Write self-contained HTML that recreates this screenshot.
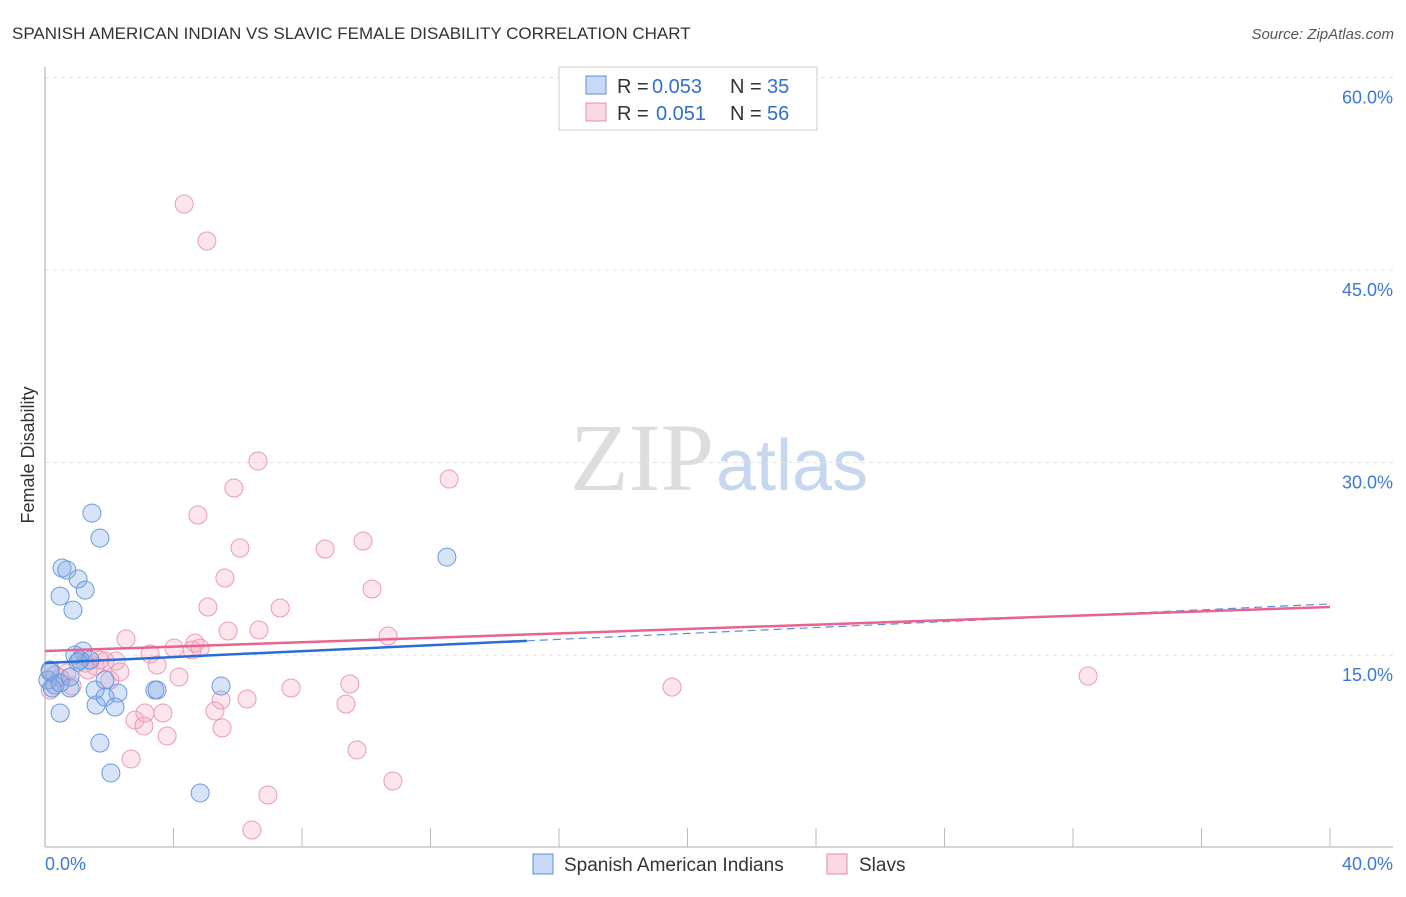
<!DOCTYPE html>
<html><head><meta charset="utf-8"><style>
body{margin:0;background:#fff;font-family:"Liberation Sans",sans-serif}
</style></head><body>
<svg id="chart" width="1406" height="892" xmlns="http://www.w3.org/2000/svg" font-family="Liberation Sans, sans-serif">
<text x="12" y="39" font-size="17" fill="#333">SPANISH AMERICAN INDIAN VS SLAVIC FEMALE DISABILITY CORRELATION CHART</text>
<text x="1394" y="39" font-size="15" fill="#555" text-anchor="end" font-style="italic">Source: ZipAtlas.com</text>
<text x="714" y="490" font-size="96" text-anchor="end" fill="#ddd" font-family="Liberation Serif, serif">ZIP</text>
<text x="716" y="490" font-size="72" fill="#c5d8f0">atlas</text>
<text transform="translate(34,455) rotate(-90)" font-size="18" fill="#333" text-anchor="middle">Female Disability</text>
<g id="grid"></g><g id="axes"></g><g id="pts"></g><g id="trend"></g>
<g>
<rect x="559" y="67" width="258" height="63" fill="#fff" stroke="#ccc"/>
<rect x="586" y="76" width="20" height="18" fill="rgba(130,170,230,0.45)" stroke="#5b8fd9"/>
<rect x="586" y="103" width="20" height="18" fill="rgba(245,170,195,0.45)" stroke="#e88aa8"/>
<text x="617" y="93" font-size="20" fill="#333">R =</text>
<text x="652" y="93" font-size="20" fill="#2f6fd0">0.053</text>
<text x="730" y="93" font-size="20" fill="#333">N =</text>
<text x="767" y="93" font-size="20" fill="#2f6fd0">35</text>
<text x="617" y="120" font-size="20" fill="#333">R =</text>
<text x="656" y="120" font-size="20" fill="#2f6fd0">0.051</text>
<text x="730" y="120" font-size="20" fill="#333">N =</text>
<text x="767" y="120" font-size="20" fill="#2f6fd0">56</text>
</g>
<g>
<rect x="533" y="854" width="20" height="20" fill="rgba(130,170,230,0.45)" stroke="#5b8fd9"/>
<text x="564" y="871" font-size="19" fill="#333">Spanish American Indians</text>
<rect x="827" y="854" width="20" height="20" fill="rgba(245,170,195,0.45)" stroke="#e88aa8"/>
<text x="859" y="871" font-size="19" fill="#333">Slavs</text>
</g>
</svg>
<script>
const blueX=[1.46,1.71,0.53,0.68,1.03,1.25,0.47,0.87,12.51,1.18,0.93,1.09,0.16,0.09,0.31,0.22,0.78,1.56,1.87,2.27,1.59,1.87,2.18,3.42,3.49,5.48,0.47,1.71,2.05,4.83,0.16,0.47,1.4,1.03,0.78];
const blueY=[26.06,24.11,21.78,21.62,20.92,20.06,19.59,18.5,22.63,15.31,15.0,14.61,13.83,13.05,12.66,12.43,12.43,12.27,13.05,12.04,11.1,11.73,10.95,12.27,12.27,12.58,10.48,8.14,5.81,4.25,13.68,12.82,14.61,14.45,13.29];
const pinkX=[4.33,5.04,6.63,12.58,5.88,4.76,6.07,8.72,9.9,5.6,10.18,5.07,7.32,5.7,6.66,10.68,2.52,4.67,4.02,3.27,4.58,3.49,2.21,1.87,1.56,1.25,4.17,0.68,0.47,0.84,2.02,2.8,3.67,3.11,3.8,2.68,3.08,5.48,6.29,5.29,5.51,7.66,9.49,9.37,9.71,6.94,10.83,6.44,19.52,32.47,0.16,0.31,1.71,1.34,2.33,4.83];
const pinkY=[50.14,47.26,30.12,28.71,28.01,25.91,23.34,23.26,23.88,21.0,20.14,18.74,18.66,16.87,16.95,16.48,16.25,15.93,15.54,15.08,15.39,14.22,14.53,14.53,14.14,14.37,13.29,13.6,13.21,12.58,13.05,9.93,10.48,10.48,8.69,6.9,9.47,11.49,11.57,10.64,9.32,12.43,12.74,11.18,7.6,4.09,5.18,1.36,12.5,13.36,12.27,13.44,14.61,13.83,13.68,15.54];
const yTicks=[15,30,45,60];
const blueTrend=[14.38,18.98];
const pinkTrend=[15.31,18.74];
const NS='http://www.w3.org/2000/svg';
const sx=v=>45+v/40*1285, sy=v=>847.5-v/15*192.5;
function mk(t,a,p){const e=document.createElementNS(NS,t);for(const k in a)e.setAttribute(k,a[k]);document.getElementById(p).appendChild(e);return e;}
yTicks.forEach(t=>{
 const l=mk('line',{x1:45,x2:1393,y1:sy(t),y2:sy(t),stroke:'#e2e2e2','stroke-dasharray':'4,4'},'grid');
 
 
 const tx=mk('text',{x:1393,y:sy(t)+26,'font-size':18,fill:'#3b78d8','text-anchor':'end'},'grid');
 tx.textContent=t.toFixed(1)+'%';
 
 
});
let a=mk('line',{x1:45,x2:45,y1:67,y2:847,stroke:'#aaa'},'axes');


a=mk('line',{x1:45,x2:1393,y1:847,y2:847,stroke:'#aaa'},'axes');


for(let i=1;i<=10;i++){const x=sx(i*4);const t=mk('line',{x1:x,x2:x,y1:828,y2:847,stroke:'#bbb'},'axes');
 
 }
[[0,'0.0%',45,'start'],[40,'40.0%',1393,'end']].forEach(d=>{const t=mk('text',{x:d[2],y:870,'font-size':18,fill:'#3b78d8','text-anchor':d[3]},'axes');t.textContent=d[1];
 
 });
pinkX.forEach((v,i)=>{const c=mk('circle',{cx:sx(v),cy:sy(pinkY[i]),r:9,fill:'rgba(245,170,195,0.3)',stroke:'#eb9ab4','stroke-width':1},'pts');
 
 });
blueX.forEach((v,i)=>{const c=mk('circle',{cx:sx(v),cy:sy(blueY[i]),r:9,fill:'rgba(130,170,230,0.32)',stroke:'#6a9ade','stroke-width':1},'pts');
 
 });
const bAt=x=>blueTrend[0]+(blueTrend[1]-blueTrend[0])*x/40;
let l=mk('line',{x1:sx(15),y1:sy(bAt(15)),x2:sx(40),y2:sy(bAt(40)),stroke:'#5b8fd9','stroke-width':1.2,'stroke-dasharray':'8,5'},'trend');


l=mk('line',{x1:sx(0),y1:sy(bAt(0)),x2:sx(15),y2:sy(bAt(15)),stroke:'#2a6dd6','stroke-width':2.5},'trend');


l=mk('line',{x1:sx(0),y1:sy(pinkTrend[0]),x2:sx(40),y2:sy(pinkTrend[1]),stroke:'#e8648f','stroke-width':2.5},'trend');


</script>
</body></html>
